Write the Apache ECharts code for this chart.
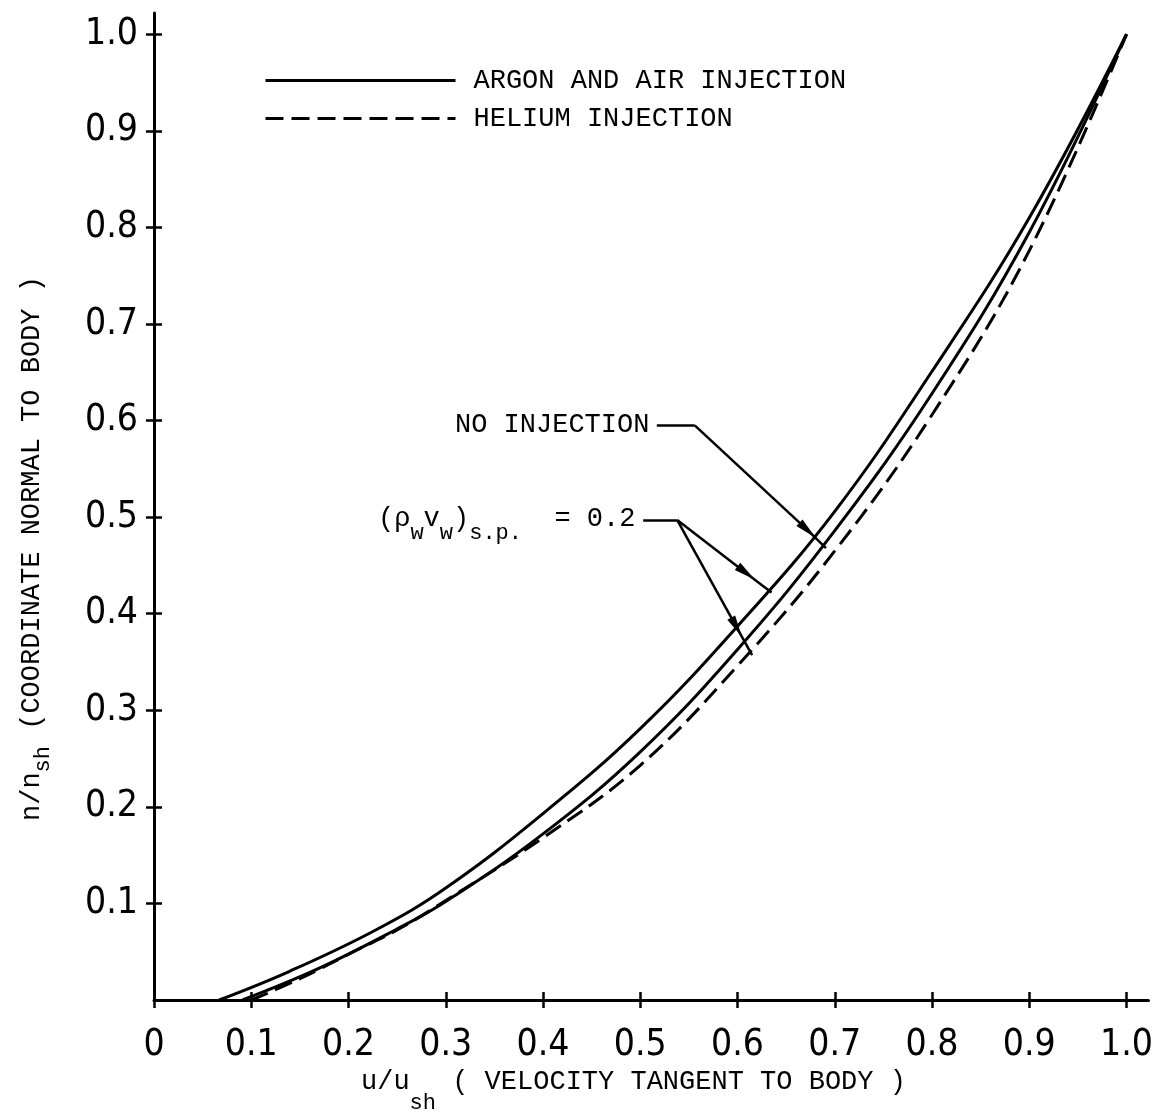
<!DOCTYPE html>
<html>
<head>
    <meta charset="UTF-8">
    <title>n/n_sh vs u/u_sh</title>
    <script type="text/javascript" src="https://cdn.jsdelivr.net/npm/echarts@6/dist/echarts.min.js"></script>
    <style>
        *{margin:0;padding:0}
        html,body{width:100%;height:100%;background:#fff;}
        #main{width:1156px;height:1114px;}
    </style>
</head>
<body>
<div id="main"></div>

<script type="text/javascript">
    // u/u_sh , n/n_sh
    var noInjection = [
        [0.067, 0], [0.14, 0.030], [0.228, 0.0725], [0.30, 0.116], [0.40, 0.193],
        [0.50, 0.281], [0.60, 0.387], [0.70, 0.506], [0.80, 0.651],
        [0.90, 0.810], [1.0, 1.0]
    ];
    var argonAir = [
        [0.091, 0], [0.17, 0.033], [0.248, 0.0725], [0.30, 0.102], [0.40, 0.172],
        [0.50, 0.257], [0.60, 0.363], [0.70, 0.486], [0.80, 0.628],
        [0.90, 0.795], [1.0, 1.0]
    ];
    var helium = [
        [0.1, 0], [0.15, 0.022], [0.209, 0.052], [0.25, 0.0725], [0.30, 0.103],
        [0.40, 0.168], [0.50, 0.243], [0.60, 0.346], [0.70, 0.465],
        [0.80, 0.606], [0.90, 0.776], [1.0, 1.0]
    ];

    var xTicks = [0, 0.1, 0.2, 0.3, 0.4, 0.5, 0.6, 0.7, 0.8, 0.9, 1.0];
    var yTicks = [0.1, 0.2, 0.3, 0.4, 0.5, 0.6, 0.7, 0.8, 0.9, 1.0];

    // leader lines for the notes (data coords); true = arrow head at the end
    var leaders = [
        [[0.517, 0.595], [0.556, 0.595], false],
        [[0.556, 0.595], [0.672, 0.4865], true],
        [[0.672, 0.4865], [0.691, 0.468], false],
        [[0.503, 0.497], [0.538, 0.497], false],
        [[0.538, 0.497], [0.609, 0.442], true],
        [[0.609, 0.442], [0.635, 0.422], false],
        [[0.538, 0.497], [0.599, 0.386], true],
        [[0.599, 0.386], [0.615, 0.357], false]
    ];

    var mono = "'Liberation Mono', 'DejaVu Sans Mono', monospace";
    var digits = "'DejaVu Sans Condensed', 'Liberation Sans Narrow', sans-serif";

    var markData = leaders.map(function (l) {
        return [
            {coord: l[0], symbol: 'none'},
            {coord: l[1], symbol: l[2] ? 'triangle' : 'none', symbolSize: [9, 22]}
        ];
    });

    function subRich(pad) {
        return {
            a: {fontFamily: mono, fontSize: 27, color: '#000', lineHeight: 30, verticalAlign: 'top'},
            s: {fontFamily: mono, fontSize: 22, color: '#000', lineHeight: 22, padding: [pad, 0, 0, 0], verticalAlign: 'top'}
        };
    }

    var hiddenAxis = {
        axisLine: {show: false},
        axisLabel: {show: false},
        splitLine: {show: false}
    };

    var option = {
        backgroundColor: '#fff',
        animation: false,
        grid: {left: 154, right: 6, top: 13, bottom: 114},
        legend: {
            data: ['ARGON AND AIR INJECTION', 'HELIUM INJECTION'],
            orient: 'vertical',
            left: 259,
            top: 62,
            itemWidth: 190,
            itemHeight: 20,
            itemGap: 11,
            selectedMode: false,
            itemStyle: {opacity: 0},
            lineStyle: {opacity: 1, width: 3},
            textStyle: {fontFamily: mono, fontSize: 27, color: '#000', padding: [0, 0, 0, 13]}
        },
        xAxis: [{
            type: 'value', min: 0, max: 1.0226, position: 'bottom',
            axisLine: {lineStyle: {color: '#000', width: 3}},
            axisTick: {length: 8, lineStyle: {color: '#000', width: 2.5}, customValues: xTicks},
            axisLabel: {
                customValues: xTicks, margin: 27, color: '#000',
                fontFamily: digits, fontSize: 37,
                formatter: function (v) { return v === 0 ? '0' : v.toFixed(1); }
            },
            splitLine: {show: false}
        }, Object.assign({
            type: 'value', min: 0, max: 1.0226, position: 'bottom',
            axisTick: {inside: true, length: 8, lineStyle: {color: '#000', width: 2.5}, customValues: xTicks}
        }, hiddenAxis)],
        yAxis: [{
            type: 'value', min: 0, max: 1.022, position: 'left',
            axisLine: {lineStyle: {color: '#000', width: 3}},
            axisTick: {length: 8, lineStyle: {color: '#000', width: 2.5}, customValues: yTicks},
            axisLabel: {
                customValues: yTicks, margin: 16, color: '#000',
                fontFamily: digits, fontSize: 37,
                formatter: function (v) { return v.toFixed(1); }
            },
            splitLine: {show: false}
        }, Object.assign({
            type: 'value', min: 0, max: 1.022, position: 'left',
            axisTick: {inside: true, length: 8, lineStyle: {color: '#000', width: 2.5}, customValues: yTicks}
        }, hiddenAxis)],
        series: [
            {
                name: 'NO INJECTION', type: 'line', data: noInjection,
                smooth: 0.4, symbol: 'none',
                lineStyle: {color: '#000', width: 3},
                markLine: {
                    silent: true, animation: false, symbol: ['none', 'none'],
                    label: {show: false},
                    lineStyle: {color: '#000', width: 2.5, type: 'solid'},
                    itemStyle: {color: '#000'},
                    data: markData
                }
            },
            {
                name: 'ARGON AND AIR INJECTION', type: 'line', data: argonAir,
                smooth: 0.4, symbol: 'none',
                itemStyle: {color: '#000'},
                lineStyle: {color: '#000', width: 3}
            },
            {
                name: 'HELIUM INJECTION', type: 'line', data: helium,
                smooth: 0.4, symbol: 'none',
                itemStyle: {color: '#000'},
                lineStyle: {color: '#000', width: 3, type: [18, 8]}
            }
        ],
        graphic: [
            {
                type: 'text', x: 18, y: 821, rotation: Math.PI / 2,
                style: {
                    text: '{a|n/n}{s|sh}{a| (COORDINATE NORMAL TO BODY )}',
                    rich: subRich(14), align: 'left', verticalAlign: 'top'
                }
            },
            {
                type: 'text', x: 361, y: 1068,
                style: {
                    text: '{a|u/u}{s|sh}{a| ( VELOCITY TANGENT TO BODY )}',
                    rich: subRich(24), align: 'left', verticalAlign: 'top'
                }
            },
            {
                type: 'text', x: 455, y: 425,
                style: {
                    text: 'NO INJECTION', fontFamily: mono, fontSize: 27, fill: '#000',
                    align: 'left', verticalAlign: 'middle'
                }
            },
            {
                type: 'text', x: 378, y: 505,
                style: {
                    text: '{a|(ρ}{s|w}{a|v}{s|w}{a|)}{s|s.p.}{a|  = 0.2}',
                    rich: subRich(17), align: 'left', verticalAlign: 'top'
                }
            }
        ]
    };

    var myChart = echarts.init(document.getElementById('main'));
    myChart.setOption(option);
</script>
</body>
</html>
